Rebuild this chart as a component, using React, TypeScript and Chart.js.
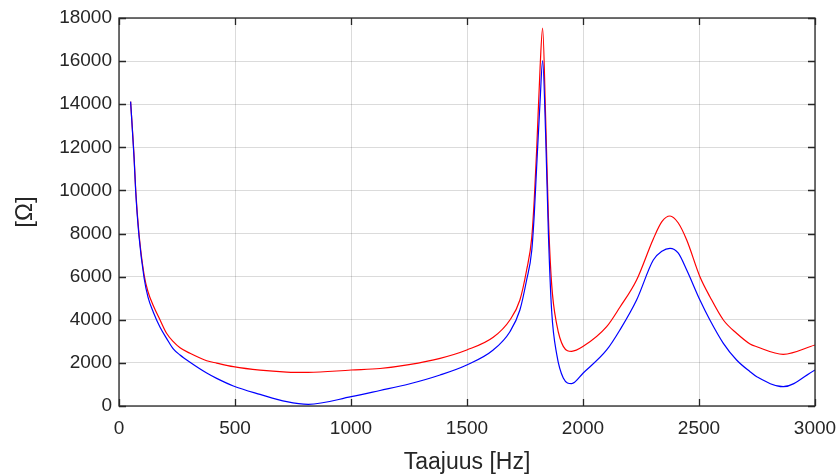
import React, { useEffect, useRef } from "react";
import { Chart, registerables } from "chart.js";

Chart.register(...registerables);

const freqHz = [50, 65, 72, 86, 108, 125, 148, 177, 205, 234, 263, 306, 378, 421, 493, 608, 723, 816, 1001, 1125, 1250, 1384, 1499, 1613, 1685, 1728, 1757, 1779, 1790, 1800, 1815, 1826, 1839, 1851, 1865, 1887, 1915, 1951, 2001, 2102, 2159, 2231, 2303, 2340, 2375, 2410, 2447, 2504, 2547, 2605, 2662, 2720, 2749, 2863, 3000];

const redOhm = [14120, 11570, 10020, 8011, 6100, 5300, 4650, 3990, 3373, 2983, 2700, 2445, 2101, 1990, 1823, 1660, 1575, 1560, 1670, 1740, 1920, 2211, 2598, 3185, 3990, 4917, 6309, 7800, 9600, 11815, 15680, 17535, 13360, 8720, 5630, 3773, 2768, 2537, 2768, 3679, 4580, 5845, 7750, 8550, 8814, 8500, 7701, 5998, 5071, 3990, 3373, 2876, 2751, 2398, 2830];

const blueOhm = [14120, 11500, 9950, 7900, 5950, 5050, 4350, 3650, 3140, 2650, 2366, 2030, 1530, 1283, 930, 540, 200, 80, 432, 720, 1020, 1438, 1902, 2598, 3447, 4453, 5845, 7200, 8900, 11040, 14135, 16020, 12585, 7947, 4393, 2381, 1299, 1035, 1531, 2598, 3526, 4917, 6770, 7180, 7316, 7100, 6309, 4917, 3990, 2909, 2134, 1591, 1359, 895, 1670];

const xTicks = [0, 500, 1000, 1500, 2000, 2500, 3000];
const yTicks = [0, 2000, 4000, 6000, 8000, 10000, 12000, 14000, 16000, 18000];

const xTitle = "Taajuus [Hz]";
const yTitle = "[Ω]";

const FONT = "'Liberation Sans', Arial, Helvetica, sans-serif";
const TEXT = "#262626";
const GRID = "rgba(0,0,0,0.14)";

const framePlugin = {
  id: "frame",
  afterDatasetsDraw(chart: any) {
    const { ctx, chartArea } = chart;
    const { left, right, top, bottom } = chartArea;
    const xs = chart.scales.x;
    const ys = chart.scales.y;
    const tl = 7;
    ctx.save();
    ctx.strokeStyle = TEXT;
    ctx.lineWidth = 1.3;
    ctx.strokeRect(left, top, right - left, bottom - top);
    ctx.beginPath();
    xTicks.forEach((v) => {
      const px = Math.round(xs.getPixelForValue(v)) + 0.5;
      ctx.moveTo(px, bottom);
      ctx.lineTo(px, bottom - tl);
      ctx.moveTo(px, top);
      ctx.lineTo(px, top + tl);
    });
    yTicks.forEach((v) => {
      const py = Math.round(ys.getPixelForValue(v)) + 0.5;
      ctx.moveTo(left, py);
      ctx.lineTo(left + tl, py);
      ctx.moveTo(right, py);
      ctx.lineTo(right - tl, py);
    });
    ctx.stroke();
    ctx.restore();
  },
};

export default function App() {
  const ref = useRef<HTMLCanvasElement | null>(null);

  useEffect(() => {
    document.body.style.margin = "0";
    const canvas = ref.current;
    if (!canvas) return;
    const chart = new Chart(canvas, {
      type: "scatter",
      data: {
        datasets: [
          {
            label: "blue",
            data: freqHz.map((f, i) => ({ x: f, y: blueOhm[i] })),
            showLine: true,
            borderColor: "#0000ff",
            borderWidth: 1.2,
            pointRadius: 0,
            cubicInterpolationMode: "monotone",
          },
          {
            label: "red",
            data: freqHz.map((f, i) => ({ x: f, y: redOhm[i] })),
            showLine: true,
            borderColor: "#ff0000",
            borderWidth: 1.2,
            pointRadius: 0,
            cubicInterpolationMode: "monotone",
          },
        ],
      },
      options: {
        responsive: false,
        animation: false,
        layout: { padding: { left: 0, right: 25, top: 18, bottom: 0 } },
        plugins: {
          legend: { display: false },
          tooltip: { enabled: false },
        },
        scales: {
          x: {
            type: "linear",
            min: 0,
            max: 3000,
            afterBuildTicks: (s: any) => {
              s.ticks = xTicks.map((v) => ({ value: v }));
            },
            afterFit: (s: any) => {
              s.height = 68;
              s.paddingLeft = 0;
              s.paddingRight = 0;
            },
            grid: { color: GRID, drawTicks: false, lineWidth: 1 },
            border: { display: false },
            ticks: {
              color: TEXT,
              padding: 11,
              maxRotation: 0,
              font: { family: FONT, size: 19 },
              callback: (v: any) => String(v),
            },
            title: {
              display: true,
              text: xTitle,
              color: TEXT,
              padding: { top: 0, bottom: 0 },
              font: { family: FONT, size: 23, lineHeight: 1 },
            },
          },
          y: {
            type: "linear",
            min: 0,
            max: 18000,
            afterBuildTicks: (s: any) => {
              s.ticks = yTicks.map((v) => ({ value: v }));
            },
            afterFit: (s: any) => {
              s.width = 119;
              s.paddingTop = 0;
              s.paddingBottom = 0;
            },
            grid: { color: GRID, drawTicks: false, lineWidth: 1 },
            border: { display: false },
            ticks: {
              color: TEXT,
              padding: 7,
              font: { family: FONT, size: 19 },
              callback: (v: any) => String(v),
            },
            title: {
              display: true,
              text: yTitle,
              color: TEXT,
              padding: { top: 13, bottom: 0 },
              font: { family: FONT, size: 24, lineHeight: 1 },
            },
          },
        },
      },
      plugins: [framePlugin],
    } as any);
    return () => chart.destroy();
  }, []);

  return (
    <div style={{ position: "absolute", left: 0, top: 0, width: 840, height: 474, background: "#fff" }}>
      <canvas ref={ref} width={840} height={474} />
    </div>
  );
}
